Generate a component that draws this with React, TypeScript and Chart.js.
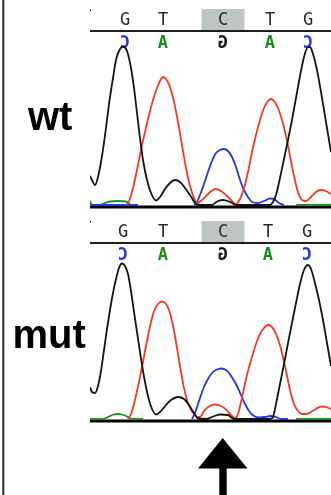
import React, { useEffect, useRef } from 'react';
import { Chart, registerables } from 'chart.js';
Chart.register(...registerables);

// ---------- base calls ----------
const baseLetters = ['G', 'T', 'C', 'T', 'G'];
// complementary bases, shown mirrored (reverse strand)
const complementLetters = ['C', 'A', 'G', 'A', 'C'];
const complementColors = ['#2236e8', '#168f16', '#111111', '#168f16', '#2236e8'];
const highlightIndex = 2;
const wtBaseScans = [35, 73, 133, 180, 218];
const mutBaseScans = [33, 73, 133, 178, 217];

// ---------- wt traces ----------
const wtBlackScans = [0, 2, 5, 8, 12, 16, 19, 23, 26, 29, 33, 37, 41, 44, 47, 50, 53, 57, 61, 66, 70, 75, 80, 85, 90, 95, 100, 106, 110, 122, 127, 133, 139, 146, 180, 183, 186, 190, 194, 198, 202, 206, 210, 214, 218, 220, 223, 227, 231, 236, 241];
const wtBlackSignal = [29, 25, 20, 28, 49, 77, 101, 127, 145, 154, 158.5, 154, 137, 117, 92, 67, 45, 25, 12, 4.5, 8, 16, 22, 25, 23, 17, 10, 1, 0, 0, 3.5, 5, 3.5, 0, 0, 3, 10, 27, 46, 65, 85, 107, 129, 148, 158, 158, 151, 135, 113, 83, 53];

const wtRedScans = [36, 39, 43, 47, 51, 55, 59, 63, 67, 70, 73, 76, 80, 84, 88, 92, 96, 100, 104, 107, 112, 117, 122, 126, 131, 137, 142, 146, 150, 154, 158, 162, 166, 170, 174, 178, 181, 184, 188, 192, 196, 200, 204, 208, 212, 216, 221, 226, 231, 236, 241];
const wtRedSignal = [0, 3.5, 17, 35, 55, 73, 90, 105, 117, 124, 128, 126, 118, 103, 83, 60, 37, 19, 7, 2, 5, 10, 14.5, 16, 14, 9, 4, 1, 6, 17, 33, 53, 70, 85, 97, 104, 106, 104, 97, 85, 69, 49, 29, 13, 5, 4, 8, 13, 15, 14, 11];

const wtBlueScans = [0, 48, 104, 104, 106, 110, 114, 118, 122, 126, 130, 134, 138, 142, 146, 150, 154, 158, 162, 168, 174, 180, 184, 189, 194];
const wtBlueSignal = [0, 0, null, 0, 1, 10, 21, 33, 44, 52, 55, 56, 54, 48, 38, 25, 15, 8, 3, 2, 4, 6.5, 6, 2, 0];

const wtGreenScans = [0, 2, 10, 15, 20, 28, 36, 41, 46, 206, 206, 241];
const wtGreenSignal = [4, 0, 0, 2, 3.5, 4, 3.5, 0, 0, null, 0, 0];

// ---------- mut traces ----------
const mutBlackScans = [0, 2, 5, 8, 11, 14, 17, 20, 23, 26, 29, 32, 35, 38, 41, 44, 47, 50, 53, 56, 59, 62, 66, 70, 76, 81, 88, 94, 99, 104, 108, 116, 122, 130, 138, 144, 180, 183, 186, 190, 194, 198, 202, 206, 210, 214, 218, 221, 225, 229, 233, 237, 241];
const mutBlackSignal = [32, 27, 26, 33, 48, 69, 90, 109, 126, 140, 151, 155.5, 153, 145, 128, 107, 87, 67, 48, 32, 19, 10, 4.5, 7, 14, 19, 22, 20, 14, 6, 0.5, 0, 2, 4.5, 4, 0, 0, 2, 15, 35, 55, 76, 96, 116, 135, 149, 154, 150, 136, 119, 99, 76, 53];

const mutRedScans = [38, 41, 44, 47, 50, 53, 56, 59, 62, 65, 68, 72, 76, 79, 82, 85, 88, 91, 94, 97, 100, 104, 108, 110, 114, 119, 125, 131, 136, 141, 145, 148, 151, 154, 158, 162, 166, 170, 174, 178, 181, 184, 188, 192, 196, 200, 204, 208, 212, 216, 221, 226, 231, 236, 241];
const mutRedSignal = [0, 5, 15, 28, 42, 57, 73, 88, 101, 110, 115, 117.5, 115, 109, 98, 83, 65, 47, 31, 19, 11, 5, 2, 2, 8, 12.5, 14.5, 13, 9.5, 4, 1, 5, 17, 31, 48, 62, 75, 85, 91, 94, 93, 89, 80, 66, 48, 29, 15, 8, 5, 5, 7, 10, 12.5, 12, 10];

const mutBlueScans = [102, 105, 108, 111, 114, 118, 122, 126, 131, 135, 139, 143, 147, 151, 155, 159, 164, 169, 175, 180, 186, 191, 198];
const mutBlueSignal = [0, 6, 15, 24, 32, 40, 46, 49, 50.5, 49.5, 46, 40, 33, 24, 15, 8, 3, 1.5, 2, 3, 2, 0, 0];

const mutGreenScans = [0, 10, 16, 20, 24, 28, 32, 36, 40, 44, 53, 206, 206, 241];
const mutGreenSignal = [0, 0, 1, 3, 4.5, 5, 4.5, 3, 1, 0, 0, null, 0, 0];

const BLACK = '#141414';
const RED = '#f43a22';
const BLUE = '#2236e8';
const GREEN = '#1a961a';

type Trace = { scans: number[]; signal: (number | null)[]; color: string; order: number };

const wtTraces: Trace[] = [
  { scans: wtBlackScans, signal: wtBlackSignal, color: BLACK, order: 0 },
  { scans: wtRedScans, signal: wtRedSignal, color: RED, order: 1 },
  { scans: wtBlueScans, signal: wtBlueSignal, color: BLUE, order: 2 },
  { scans: wtGreenScans, signal: wtGreenSignal, color: GREEN, order: 3 },
];
const mutTraces: Trace[] = [
  { scans: mutBlackScans, signal: mutBlackSignal, color: BLACK, order: 0 },
  { scans: mutRedScans, signal: mutRedSignal, color: RED, order: 1 },
  { scans: mutBlueScans, signal: mutBlueSignal, color: BLUE, order: 2 },
  { scans: mutGreenScans, signal: mutGreenSignal, color: GREEN, order: 3 },
];

function toPoints(scans: number[], signal: (number | null)[]) {
  return scans.map((x, i) => ({ x, y: signal[i] }));
}

function headerPlugin(baseScans: number[]) {
  return {
    id: 'header',
    beforeDatasetsDraw(chart: any) {
      const { ctx, chartArea, scales } = chart;
      const xs = scales.x;
      const ys = scales.y;
      const w = chartArea.right - chartArea.left;
      ctx.save();
      // highlighted base box
      const hx = xs.getPixelForValue(baseScans[highlightIndex]);
      ctx.fillStyle = '#bec5c5';
      ctx.fillRect(hx - 21.5, 9, 43, 21);
      // tiny mark at left
      ctx.fillStyle = '#444';
      ctx.fillRect(chartArea.left, 9, 1, 2);
      // base letters
      ctx.font = '17px "DejaVu Sans Mono"';
      ctx.textAlign = 'center';
      ctx.textBaseline = 'alphabetic';
      ctx.fillStyle = '#2a2a2a';
      baseLetters.forEach((l, i) => ctx.fillText(l, xs.getPixelForValue(baseScans[i]), 25));
      // separator line
      ctx.fillStyle = '#1e1e1e';
      ctx.fillRect(chartArea.left, 30, w, 2);
      // complement letters, mirrored
      ctx.font = 'bold 17px "DejaVu Sans Mono"';
      complementLetters.forEach((g, i) => {
        ctx.save();
        ctx.translate(xs.getPixelForValue(baseScans[i]), 48);
        ctx.scale(-1, 1);
        ctx.fillStyle = complementColors[i];
        ctx.fillText(g, 0, 0);
        ctx.restore();
      });
      // thick baseline
      const by = ys.getPixelForValue(-2);
      ctx.fillStyle = '#000';
      ctx.fillRect(chartArea.left, by - 1.5, w, 3);
      ctx.restore();
    },
  };
}

function Panel({ traces, baseScans, top, yMin, yMax }: { traces: Trace[]; baseScans: number[]; top: number; yMin: number; yMax: number }) {
  const ref = useRef<HTMLCanvasElement>(null);
  useEffect(() => {
    const chart = new Chart(ref.current as HTMLCanvasElement, {
      type: 'line',
      data: {
        datasets: traces.map((t) => ({
          data: toPoints(t.scans, t.signal) as any,
          borderColor: t.color,
          borderWidth: 1.8,
          pointRadius: 0,
          fill: false,
          cubicInterpolationMode: 'monotone' as const,
          spanGaps: false,
          order: t.order,
        })),
      },
      options: {
        animation: false,
        responsive: false,
        events: [],
        layout: { padding: 0 },
        scales: {
          x: { type: 'linear', min: 0, max: 241, display: false },
          y: { type: 'linear', min: yMin, max: yMax, display: false },
        },
        plugins: { legend: { display: false }, tooltip: { enabled: false } },
      },
      plugins: [headerPlugin(baseScans)],
    });
    return () => chart.destroy();
  }, []);
  return (
    <canvas
      ref={ref}
      width={241}
      height={212}
      style={{ position: 'absolute', left: 90, top, width: 241, height: 212 }}
    />
  );
}

export default function App() {
  return (
    <div style={{ position: 'absolute', left: 0, top: 0, width: 331, height: 495, background: '#fff', overflow: 'hidden' }}>
      <Panel traces={wtTraces} baseScans={wtBaseScans} top={0} yMin={-7} yMax={205} />
      <Panel traces={mutTraces} baseScans={mutBaseScans} top={212} yMin={-5} yMax={207} />
      <svg width={331} height={495} style={{ position: 'absolute', left: 0, top: 0, pointerEvents: 'none' }}>
        <rect x={2.3} y={0} width={2} height={495} fill="#2b2b2b" />
        <text x={28} y={130} fontFamily="'Liberation Sans', Arial, sans-serif" fontWeight="bold" fontSize={40} fill="#000">wt</text>
        <text x={12.5} y={348} fontFamily="'Liberation Sans', Arial, sans-serif" fontWeight="bold" fontSize={40} fill="#000">mut</text>
        <polygon points="222.7,438 198,468.5 247.5,468.5" fill="#000" />
        <rect x={219.3} y={468} width={7.4} height={27} fill="#000" />
      </svg>
    </div>
  );
}
